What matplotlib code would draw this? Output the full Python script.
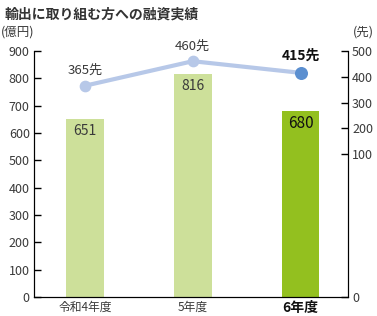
import matplotlib
matplotlib.use('Agg')
from matplotlib import pyplot as plt
import numpy as np

plt.rcParams['font.family'] = ['Noto Sans CJK JP', 'DejaVu Sans']

# data
years = ['令和4年度', '5年度', '6年度']
loans = [651, 816, 680]        # 億円
companies = [365, 460, 415]    # 先
left_ticks = [0, 100, 200, 300, 400, 500, 600, 700, 800, 900]
right_ticks = [100, 200, 300, 400, 500]

TXT = '#3a3a3a'
LIGHT_GREEN = '#cde09a'
DARK_GREEN = '#93c01f'
LINE_BLUE = '#b7c8e8'
DOT_BLUE = '#5b8fd0'

fig = plt.figure(figsize=(3.77, 3.16), dpi=100)
ax = fig.add_axes([0.090, 0.060, 0.833, 0.779])

x = np.arange(len(years))
bar_colors = [LIGHT_GREEN, LIGHT_GREEN, DARK_GREEN]
ax.bar(x, loans, width=0.35, color=bar_colors, zorder=2)
ax.set_xlim(-0.473, 2.44)
ax.set_ylim(0, 900)
ax.set_yticks(left_ticks)
ax.tick_params(axis='y', direction='in', length=5, width=1, labelsize=9,
               labelcolor=TXT, pad=3)
ax.tick_params(axis='x', length=0, pad=3)
ax.set_xticks(x)
ax.set_xticklabels(years, fontsize=8.5, color=TXT)
lbl = ax.get_xticklabels()[-1]
lbl.set_fontweight('bold')
lbl.set_fontsize(10)
lbl.set_color('#111111')
ax.spines['top'].set_visible(False)

for i, v in enumerate(loans):
    last = i == len(loans) - 1
    ax.annotate(str(v), (x[i], v), xytext=(0, -9), textcoords='offset points',
                ha='center', va='center', fontsize=11 if last else 10,
                color='#111111' if last else TXT, zorder=3)

# right axis (broken scale: 0 at the bottom, 100-500 on top part)
ax2 = ax.twinx()
ax2.set_ylim(-453, 500)
ax2.set_yticks([-453] + right_ticks)
ax2.set_yticklabels(['0'] + [str(t) for t in right_ticks])
ax2.tick_params(axis='y', direction='in', length=5, width=1, labelsize=9,
                labelcolor=TXT, pad=3)
ax2.spines['top'].set_visible(False)

ax2.plot(x, companies, color=LINE_BLUE, lw=3, zorder=3, solid_capstyle='round')
ax2.scatter(x[:-1], companies[:-1], s=55, color=LINE_BLUE, zorder=4)
ax2.scatter(x[-1:], companies[-1:], s=70, color=DOT_BLUE, zorder=4)
for i, v in enumerate(companies):
    last = i == len(companies) - 1
    ax2.annotate(f'{v}先', (x[i], v), xytext=(0, 11 if not last else 12),
                 textcoords='offset points', ha='center', va='center',
                 fontsize=10 if last else 9.5,
                 fontweight='bold' if last else 'normal',
                 color='#111111' if last else TXT)

fig.text(0.013, 0.955, '輸出に取り組む方への融資実績', fontsize=10,
         fontweight='bold', color='#333333', va='center')
fig.text(0.003, 0.900, '(億円)', fontsize=9, color=TXT, va='center')
fig.text(0.935, 0.900, '(先)', fontsize=9, color=TXT, va='center')

fig.savefig('out.png', dpi=100)
